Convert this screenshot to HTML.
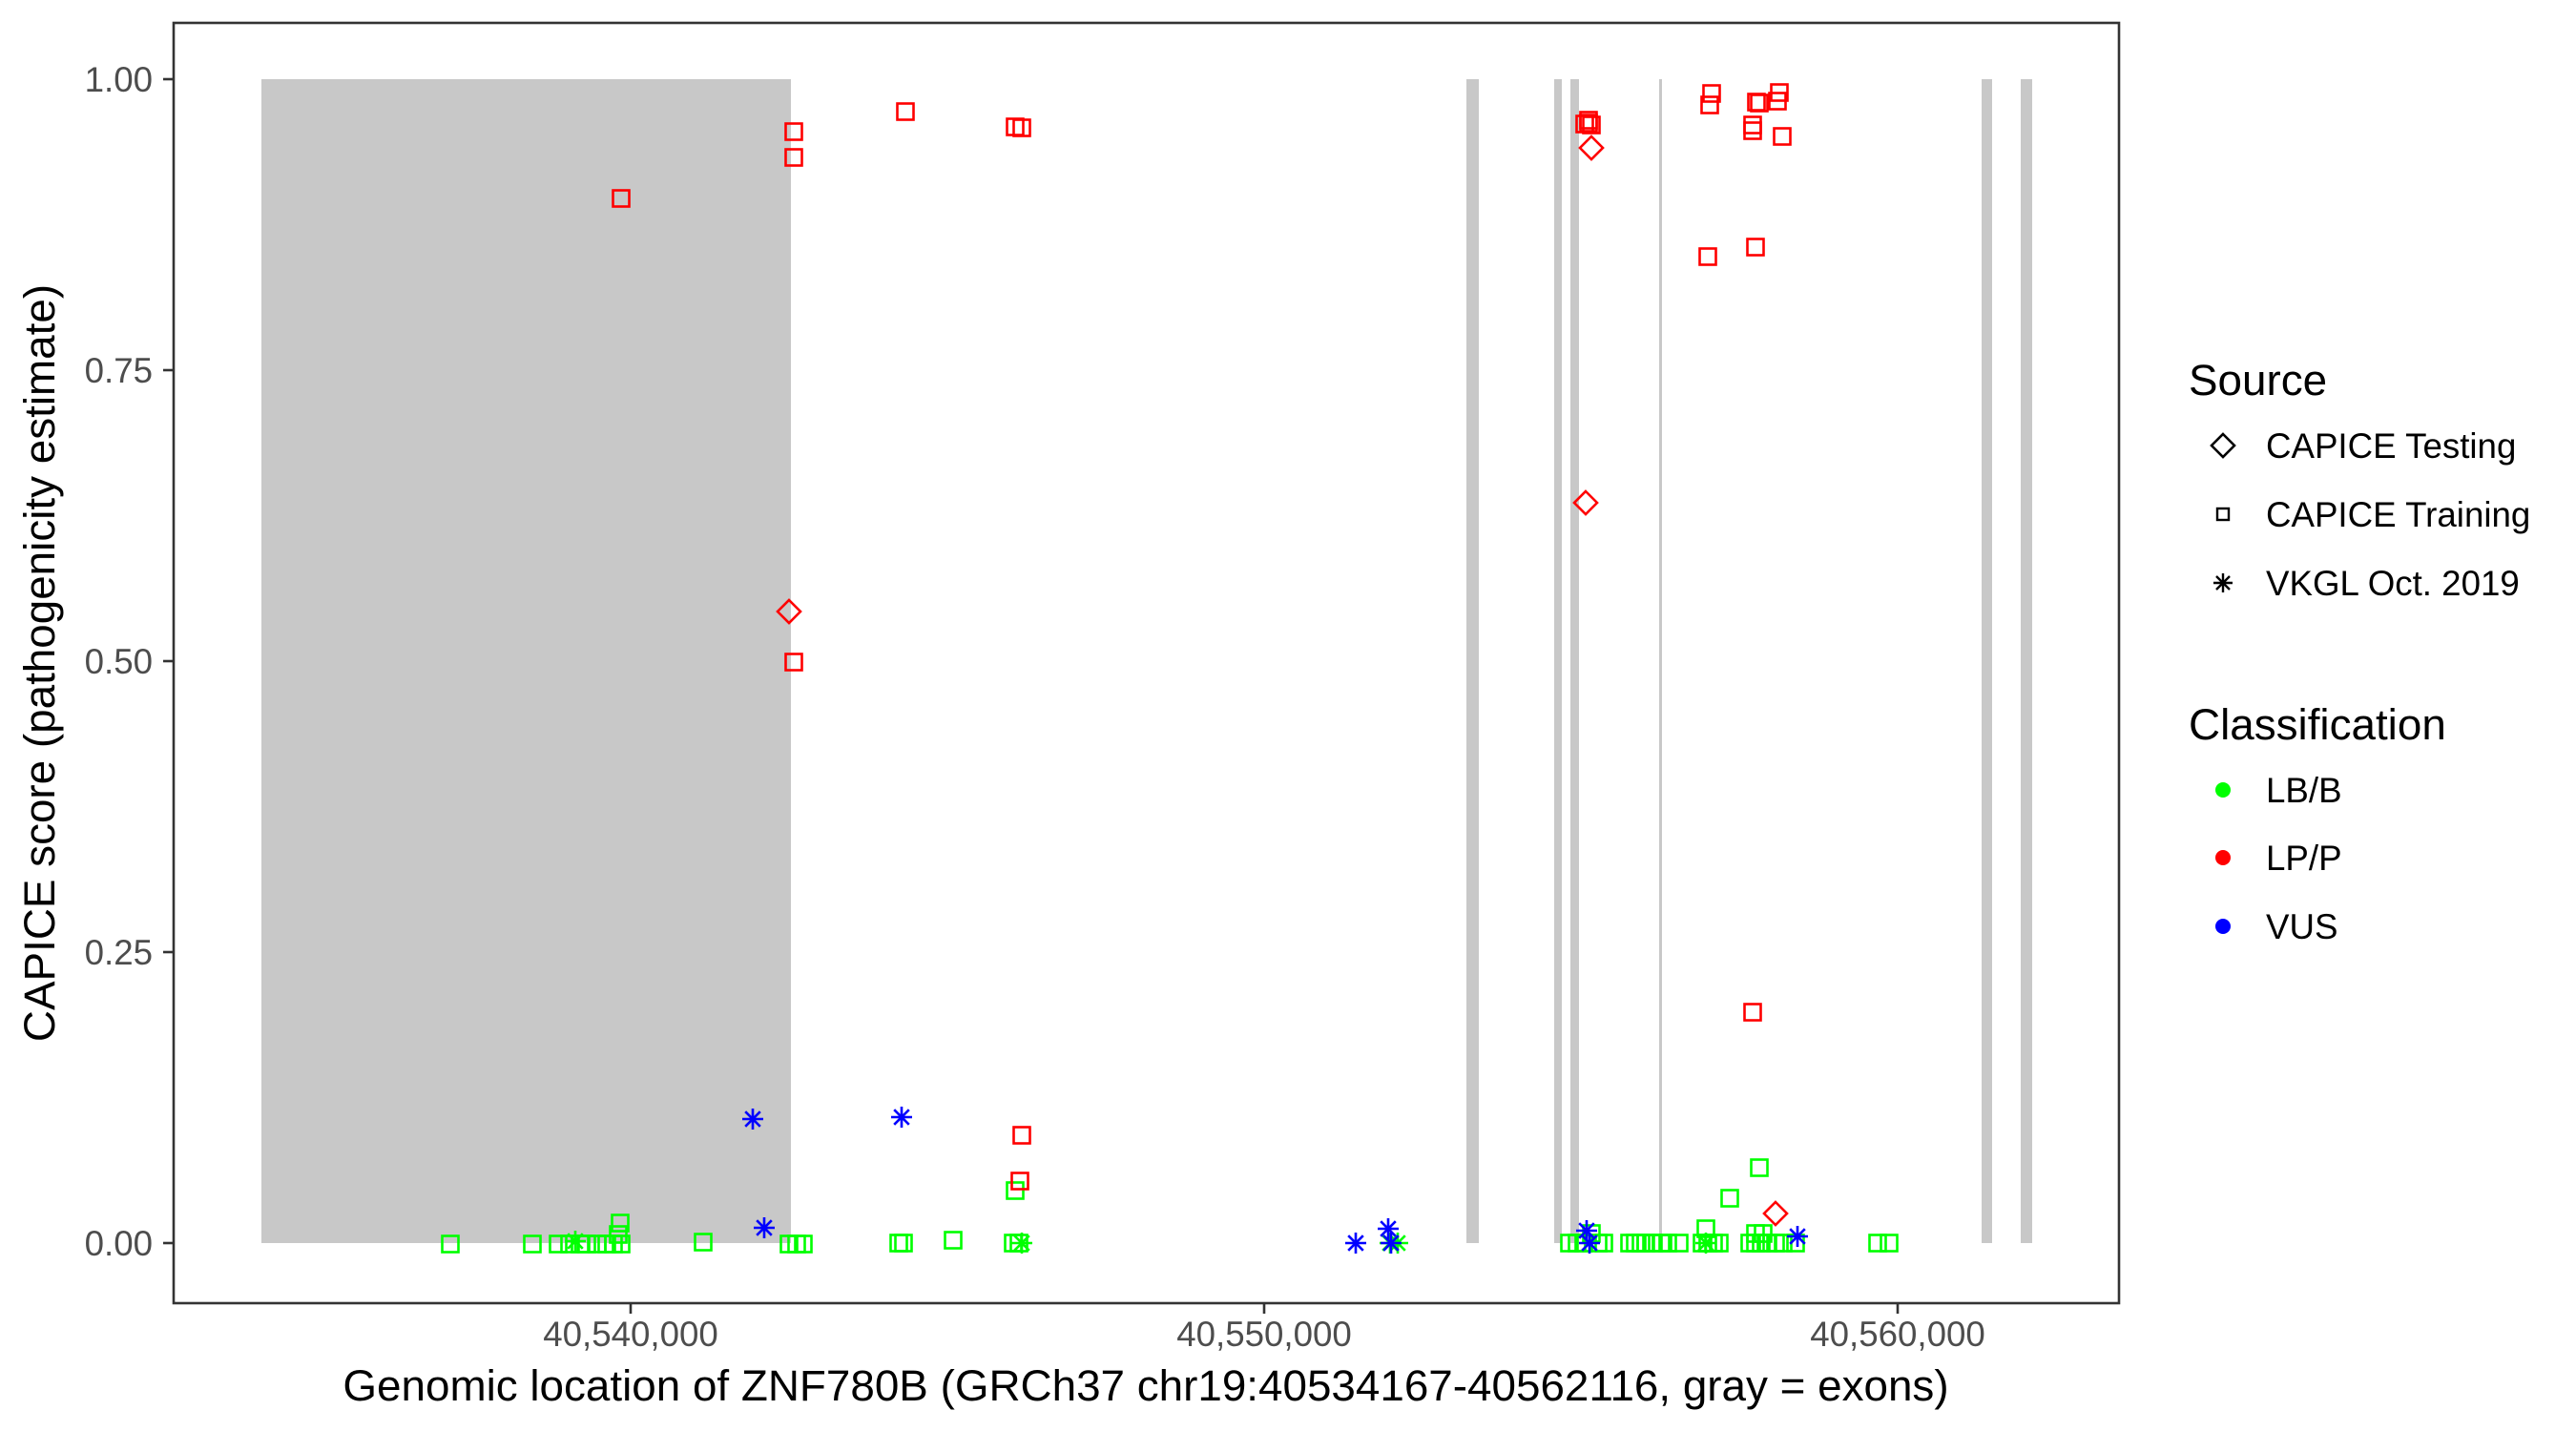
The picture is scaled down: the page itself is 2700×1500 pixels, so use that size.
<!DOCTYPE html>
<html><head><meta charset="utf-8"><style>
html,body{margin:0;padding:0;background:#fff}
svg{display:block;font-family:"Liberation Sans",Arial,sans-serif}
</style></head><body>
<svg width="2700" height="1500" viewBox="0 0 2700 1500" xmlns="http://www.w3.org/2000/svg">
<defs>
<rect id="s" x="-8.5" y="-8.5" width="17" height="17" fill="none" stroke-width="2.6"/>
<polygon id="d" points="0,-12 12,0 0,12 -12,0" fill="none" stroke-width="2.6"/>
<path id="a" d="M-11,0H11M0,-11V11M-7.8,-7.8L7.8,7.8M-7.8,7.8L7.8,-7.8" fill="none" stroke-width="2.6"/>
</defs>
<rect x="0" y="0" width="2700" height="1500" fill="#fff"/>
<g fill="#c8c8c8">
<rect x="274" y="83" width="555" height="1220"/>
<rect x="1537" y="83" width="13" height="1220"/>
<rect x="1629" y="83" width="8" height="1220"/>
<rect x="1646" y="83" width="9" height="1220"/>
<rect x="1739" y="83" width="3" height="1220"/>
<rect x="2077" y="83" width="11" height="1220"/>
<rect x="2118" y="83" width="12" height="1220"/>
</g>
<g stroke="#00ff00">
<use href="#s" x="472" y="1304"/><use href="#s" x="558" y="1304"/><use href="#s" x="585" y="1304"/>
<use href="#s" x="597" y="1304"/><use href="#s" x="608" y="1304"/><use href="#s" x="615" y="1304"/>
<use href="#s" x="626" y="1304"/><use href="#s" x="636" y="1304"/><use href="#s" x="643" y="1304"/>
<use href="#s" x="651" y="1304"/><use href="#s" x="650" y="1282"/><use href="#s" x="648" y="1294"/>
<use href="#a" x="603" y="1301"/>
<use href="#s" x="737" y="1302"/>
<use href="#s" x="827" y="1304"/><use href="#s" x="835" y="1304"/><use href="#s" x="842" y="1304"/>
<use href="#s" x="942" y="1303"/><use href="#s" x="947" y="1303"/><use href="#s" x="999" y="1300"/>
<use href="#s" x="1062" y="1303"/><use href="#s" x="1068" y="1303"/><use href="#s" x="1064" y="1248"/>
<use href="#a" x="1071" y="1303"/>
<use href="#a" x="1465" y="1303"/><use href="#a" x="1457" y="1303"/>
<use href="#s" x="1645" y="1303"/><use href="#s" x="1653" y="1303"/><use href="#s" x="1660" y="1303"/>
<use href="#s" x="1668" y="1293"/><use href="#s" x="1675" y="1303"/><use href="#s" x="1681" y="1303"/>
<use href="#s" x="1708" y="1303"/><use href="#s" x="1714" y="1303"/><use href="#s" x="1720" y="1303"/>
<use href="#s" x="1725" y="1303"/><use href="#s" x="1733" y="1303"/><use href="#s" x="1741" y="1303"/>
<use href="#s" x="1748" y="1303"/><use href="#s" x="1760" y="1303"/>
<use href="#s" x="1788" y="1288"/><use href="#s" x="1784" y="1303"/><use href="#s" x="1790" y="1303"/>
<use href="#s" x="1796" y="1303"/><use href="#s" x="1802" y="1303"/><use href="#a" x="1788" y="1303"/>
<use href="#s" x="1844" y="1224"/><use href="#s" x="1813" y="1256"/>
<use href="#s" x="1834" y="1303"/><use href="#s" x="1840" y="1303"/><use href="#s" x="1846" y="1303"/>
<use href="#s" x="1853" y="1303"/><use href="#s" x="1861" y="1303"/><use href="#s" x="1869" y="1303"/>
<use href="#s" x="1882" y="1303"/><use href="#s" x="1840" y="1293"/><use href="#s" x="1848" y="1293"/>
<use href="#s" x="1968" y="1303"/><use href="#s" x="1980" y="1303"/>
</g>
<g stroke="#ff0000">
<use href="#s" x="651" y="208"/><use href="#s" x="832" y="138"/><use href="#s" x="832" y="165"/>
<use href="#s" x="949" y="117"/><use href="#s" x="1064" y="133"/><use href="#s" x="1071" y="134"/>
<use href="#s" x="832" y="694"/><use href="#s" x="1071" y="1190"/><use href="#s" x="1069" y="1238"/>
<use href="#d" x="827" y="641"/><use href="#d" x="1662" y="527"/><use href="#d" x="1668" y="155"/>
<use href="#d" x="1861" y="1272"/>
<use href="#s" x="1665" y="126"/><use href="#s" x="1661" y="130"/><use href="#s" x="1668" y="131"/><use href="#s" x="1665" y="129"/>
<use href="#s" x="1794" y="98"/><use href="#s" x="1792" y="110"/>
<use href="#s" x="1841" y="107"/><use href="#s" x="1844" y="108"/>
<use href="#s" x="1865" y="97"/><use href="#s" x="1863" y="106"/>
<use href="#s" x="1837" y="131"/><use href="#s" x="1837" y="137"/><use href="#s" x="1868" y="143"/>
<use href="#s" x="1790" y="269"/><use href="#s" x="1840" y="259"/><use href="#s" x="1837" y="1061"/>
</g>
<g stroke="#0000ff">
<use href="#a" x="789" y="1173"/><use href="#a" x="945" y="1171"/><use href="#a" x="801" y="1287"/>
<use href="#a" x="1421" y="1303"/><use href="#a" x="1455" y="1288"/><use href="#a" x="1458" y="1303"/>
<use href="#a" x="1663" y="1290"/><use href="#a" x="1666" y="1303"/><use href="#a" x="1884" y="1296"/>
</g>
<rect x="182" y="24" width="2039" height="1342" fill="none" stroke="#333" stroke-width="2.6"/>
<g stroke="#333" stroke-width="2.6">
<line x1="171" x2="182" y1="83" y2="83"/><line x1="171" x2="182" y1="388" y2="388"/>
<line x1="171" x2="182" y1="693" y2="693"/><line x1="171" x2="182" y1="998" y2="998"/>
<line x1="171" x2="182" y1="1303" y2="1303"/>
<line x1="661" x2="661" y1="1366" y2="1377"/><line x1="1325" x2="1325" y1="1366" y2="1377"/>
<line x1="1989" x2="1989" y1="1366" y2="1377"/>
</g>
<g fill="#4d4d4d" font-size="36.7" text-anchor="end">
<text x="160" y="96">1.00</text><text x="160" y="401">0.75</text><text x="160" y="706">0.50</text>
<text x="160" y="1011">0.25</text><text x="160" y="1316">0.00</text>
</g>
<g fill="#4d4d4d" font-size="36.7" text-anchor="middle">
<text x="661" y="1411">40,540,000</text><text x="1325" y="1411">40,550,000</text><text x="1989" y="1411">40,560,000</text>
</g>
<text x="1201" y="1468" font-size="45.8" text-anchor="middle" fill="#000">Genomic location of ZNF780B (GRCh37 chr19:40534167-40562116, gray = exons)</text>
<text transform="translate(57,695) rotate(-90)" font-size="45.8" text-anchor="middle" fill="#000">CAPICE score (pathogenicity estimate)</text>
<text x="2294" y="414" font-size="45.8" fill="#000">Source</text>
<g stroke="#000"><use href="#d" x="2330" y="467"/></g>
<g stroke="#000" stroke-width="2.4" fill="none">
<rect x="2324" y="533" width="12" height="12"/>
<path d="M2320,611H2340M2330,601V621M2323,604L2337,618M2323,618L2337,604"/>
</g>
<g font-size="36.7" fill="#000">
<text x="2375" y="480">CAPICE Testing</text>
<text x="2375" y="552">CAPICE Training</text>
<text x="2375" y="624">VKGL Oct. 2019</text>
</g>
<text x="2294" y="775" font-size="45.8" fill="#000">Classification</text>
<circle cx="2330" cy="828" r="8" fill="#00ff00"/>
<circle cx="2330" cy="899" r="8" fill="#ff0000"/>
<circle cx="2330" cy="971" r="8" fill="#0000ff"/>
<g font-size="36.7" fill="#000">
<text x="2375" y="841">LB/B</text><text x="2375" y="912">LP/P</text><text x="2375" y="984">VUS</text>
</g>
</svg>
</body></html>
